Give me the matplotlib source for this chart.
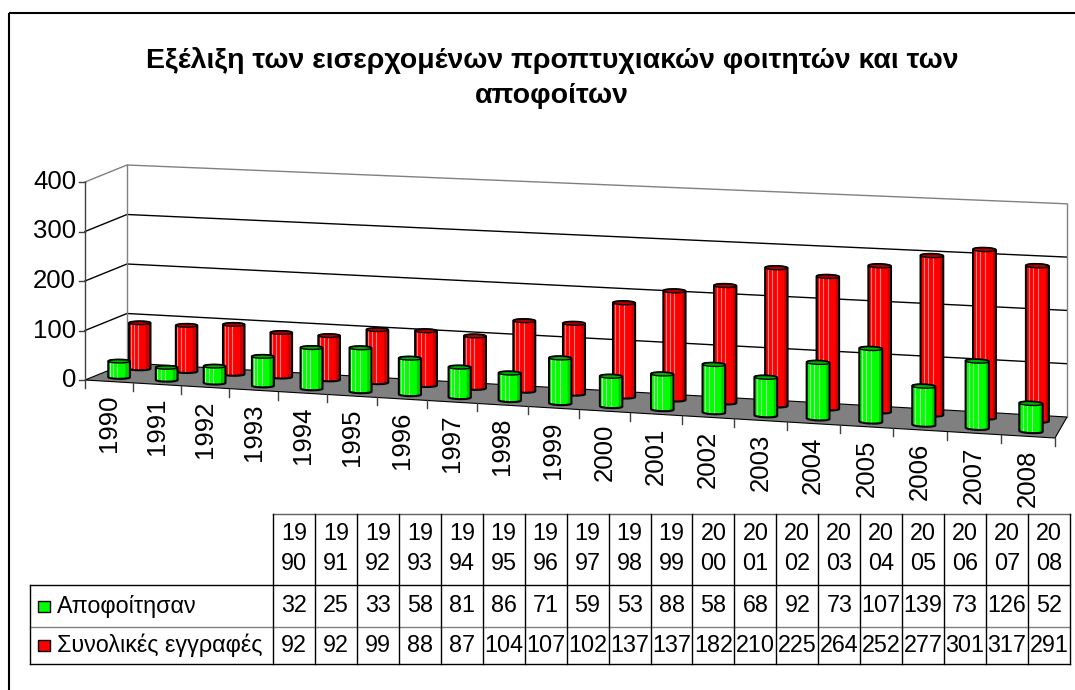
import numpy as np
import matplotlib
matplotlib.use("Agg")
import matplotlib.pyplot as plt
from matplotlib.patches import Polygon, Rectangle

plt.rcParams['font.family'] = ['Liberation Sans', 'DejaVu Sans']

# Data
years = [1990, 1991, 1992, 1993, 1994, 1995, 1996, 1997, 1998, 1999,
         2000, 2001, 2002, 2003, 2004, 2005, 2006, 2007, 2008]
graduated = [32, 25, 33, 58, 81, 86, 71, 59, 53, 88,
             58, 68, 92, 73, 107, 139, 73, 126, 52]
enrolled = [92, 92, 99, 88, 87, 104, 107, 102, 137, 137,
            182, 210, 225, 264, 252, 277, 301, 317, 291]
y_ticks = [0, 100, 200, 300, 400]
series_names = ["Αποφοίτησαν", "Συνολικές εγγραφές"]
title_lines = ["Εξέλιξη των εισερχομένων προπτυχιακών φοιτητών και των", "αποφοίτων"]

# Perspective box of the pseudo-3D plot (pixel space)
FL = (85.0, 380.0)    # floor front-left
FR = (1055.0, 438.0)  # floor front-right
BL = (127.0, 363.0)   # floor back-left
BR = (1067.0, 417.0)  # floor back-right
S_LEFT, S_RIGHT = 0.495, 0.533  # pixels per value unit
VMAX = y_ticks[-1]
n = len(years)


def warp(u):
    # mild foreshortening along the category axis
    return 0.9314 * u + 0.0686 * u * u


def proj(u, d, v):
    u = np.asarray(u, dtype=float)
    d = np.asarray(d, dtype=float)
    t = warp(u)
    fx = FL[0] + t * (FR[0] - FL[0])
    fy = FL[1] + t * (FR[1] - FL[1])
    bx = BL[0] + t * (BR[0] - BL[0])
    by = BL[1] + t * (BR[1] - BL[1])
    x = fx + d * (bx - fx)
    y = fy + d * (by - fy)
    s = S_LEFT + t * (S_RIGHT - S_LEFT)
    return x, y - np.asarray(v, dtype=float) * s


def hull(points):
    pts = sorted(map(tuple, points))
    def cross(o, a, b):
        return (a[0] - o[0]) * (b[1] - o[1]) - (a[1] - o[1]) * (b[0] - o[0])
    lower, upper = [], []
    for p in pts:
        while len(lower) >= 2 and cross(lower[-2], lower[-1], p) <= 0:
            lower.pop()
        lower.append(p)
    for p in reversed(pts):
        while len(upper) >= 2 and cross(upper[-2], upper[-1], p) <= 0:
            upper.pop()
        upper.append(p)
    return np.array(lower[:-1] + upper[:-1])


def cylinder(ax, i, d, value, body, cap, light, dark, z):
    uc = (i + 0.5) / n
    ru = 0.215 / n
    rd = 0.09
    t = np.linspace(0, 2 * np.pi, 72, endpoint=False)
    bx, by = proj(uc + ru * np.cos(t), d + rd * np.sin(t), 0)
    tx, ty = proj(uc + ru * np.cos(t), d + rd * np.sin(t), value)
    outline = hull(np.column_stack([np.r_[bx, tx], np.r_[by, ty]]))
    ax.add_patch(Polygon(outline, closed=True, facecolor=body, edgecolor='none', zorder=z))
    # shaded strips on the visible side
    tf = np.linspace(np.pi, 2 * np.pi, 11)
    for k in range(len(tf) - 1):
        a0, a1 = tf[k], tf[k + 1]
        c = dark if (k == 0 or k >= 8) else body
        x0, y0 = proj(uc + ru * np.cos(a0), d + rd * np.sin(a0), 0)
        x1, y1 = proj(uc + ru * np.cos(a1), d + rd * np.sin(a1), 0)
        x2, y2 = proj(uc + ru * np.cos(a1), d + rd * np.sin(a1), value)
        x3, y3 = proj(uc + ru * np.cos(a0), d + rd * np.sin(a0), value)
        ax.add_patch(Polygon([[x0, y0], [x1, y1], [x2, y2], [x3, y3]], closed=True,
                             facecolor=c, edgecolor='none', zorder=z + 0.1))
    for a in (1.28 * np.pi, 1.42 * np.pi, 1.56 * np.pi):
        x0, y0 = proj(uc + ru * np.cos(a), d + rd * np.sin(a), 0)
        x1, y1 = proj(uc + ru * np.cos(a), d + rd * np.sin(a), value)
        ax.plot([x0, x1], [y0, y1], color=light, lw=0.8, zorder=z + 0.2)
    ax.add_patch(Polygon(outline, closed=True, facecolor='none',
                         edgecolor='black', lw=1.5, zorder=z + 0.3))
    ax.add_patch(Polygon(np.column_stack([tx, ty]), closed=True, facecolor=cap,
                         edgecolor='black', lw=1.0, zorder=z + 0.4))


fig = plt.figure(figsize=(10.75, 6.9), dpi=100)
ax = fig.add_axes([0, 0, 1, 1])
ax.set_xlim(0, 1075)
ax.set_ylim(690, 0)
ax.axis('off')

# outer frame
ax.add_patch(Rectangle((9, 13), 1200, 800, facecolor='none', edgecolor='black', lw=1.5))

ax.text(552, 60, title_lines[0], ha='center', va='center', fontsize=20.5, fontweight='bold')
ax.text(552, 96, title_lines[1], ha='center', va='center', fontsize=20.5, fontweight='bold')

# floor
fx, fy = proj([0, 1, 1, 0], [0, 0, 1, 1], 0)
ax.add_patch(Polygon(np.column_stack([fx, fy]), closed=True, facecolor='#808080',
                     edgecolor='black', lw=0.8, zorder=2))

# walls and gridlines
for v in y_ticks[1:]:
    col = '#808080' if v == VMAX else 'black'
    x, y = proj([0, 0, 1], [0, 1, 1], v)
    ax.plot(x, y, color=col, lw=1.0, zorder=1)
for u in (0, 1):
    x, y = proj([u, u], [1, 1], [0, VMAX])
    ax.plot(x, y, color='#808080', lw=1.0, zorder=1)
x, y = proj([0, 0], [0, 0], [0, VMAX])
ax.plot(x, y, color='#404040', lw=1.0, zorder=3)

# value axis ticks and labels
for v in y_ticks:
    x, y = proj(0, 0, v)
    ax.plot([x - 6, x], [y, y], color='#404040', lw=1.0, zorder=3)
    ax.text(x - 9, y, str(v), ha='right', va='center', fontsize=18.5)

# category ticks and labels
for k in range(n + 1):
    x, y = proj(k / n, 0, 0)
    ax.plot([x, x], [y, y + 8], color='#404040', lw=1.0, zorder=3)
for i, yr in enumerate(years):
    x, y = proj((i + 0.5) / n, 0, 0)
    ax.text(x, y + 13, str(yr), rotation=90, ha='center', va='top', fontsize=18.5)

# cylinders: back row first, then front row
for i, v in enumerate(enrolled):
    cylinder(ax, i, 0.75, v, '#FF0000', '#B00000', '#FF8080', '#C80000', 5)
for i, v in enumerate(graduated):
    cylinder(ax, i, 0.25, v, '#00FF00', '#00B000', '#A0FFA0', '#00C800', 10)

# data table
tx0, tx1 = 273.0, 1070.0
cw = (tx1 - tx0) / n
r_top, r_head, r_mid, r_bot = 514, 585, 627, 664
ax.plot([tx0, tx1], [r_top, r_top], color='#606060', lw=1.0)
ax.plot([30, tx1], [r_head, r_head], color='black', lw=1.0)
ax.plot([30, tx1], [r_mid, r_mid], color='#808080', lw=1.0)
ax.plot([30, tx1], [r_bot, r_bot], color='black', lw=1.0)
ax.plot([30, 30], [r_head, r_bot], color='black', lw=1.0)
for k in range(n + 1):
    x = tx0 + k * cw
    ax.plot([x, x], [r_top, r_bot], color='black', lw=1.0)
for i, yr in enumerate(years):
    xc = tx0 + (i + 0.5) * cw
    s = str(yr)
    ax.text(xc, 533, s[:2], ha='center', va='center', fontsize=16.8)
    ax.text(xc, 563, s[2:], ha='center', va='center', fontsize=16.8)
    ax.text(xc, 606, str(graduated[i]), ha='center', va='center', fontsize=16.8)
    ax.text(xc, 645, str(enrolled[i]), ha='center', va='center', fontsize=16.8)

for row_y, name, col in ((606, series_names[0], '#00FF00'), (645, series_names[1], '#FF0000')):
    ax.add_patch(Rectangle((38, row_y - 5.5), 12, 11, facecolor=col, edgecolor='black', lw=1.0))
    ax.text(57, row_y, name, ha='left', va='center', fontsize=16.8)

fig.savefig("out.png", dpi=100)
